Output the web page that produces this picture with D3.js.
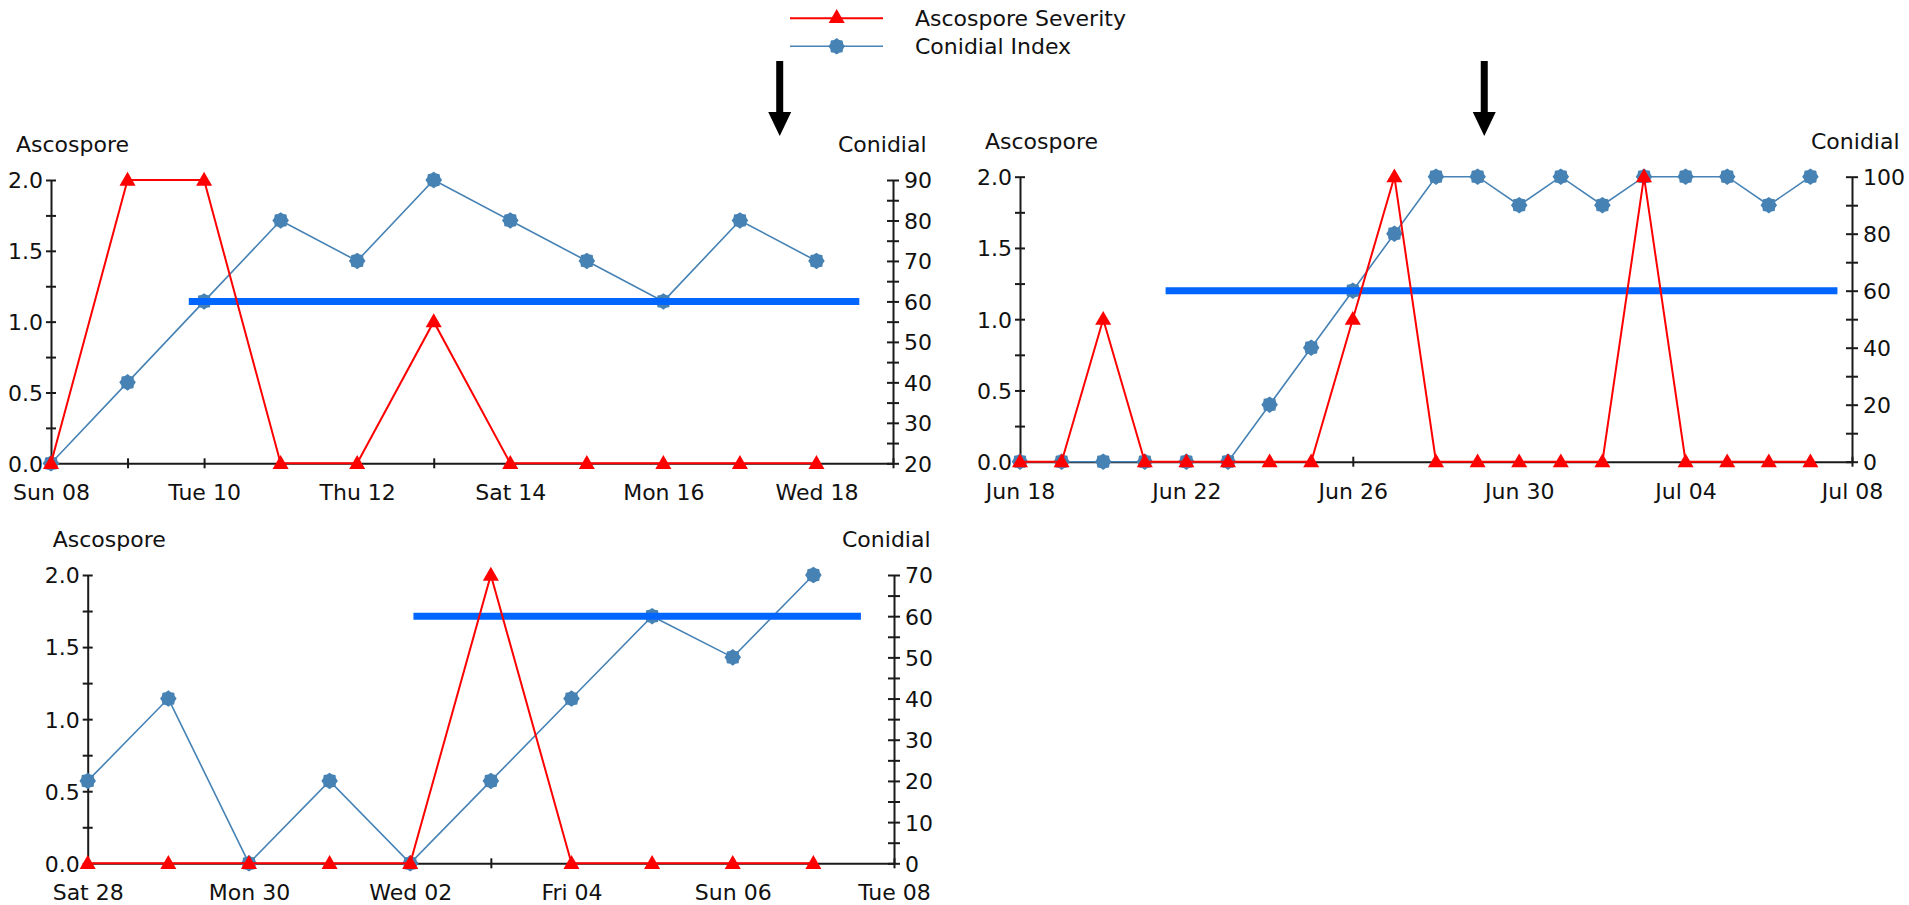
<!DOCTYPE html>
<html>
<head>
<meta charset="utf-8">
<script src="https://cdn.jsdelivr.net/npm/d3@7"></script>
<style>
  html, body { margin: 0; padding: 0; background: #ffffff; }
  svg text { font-family: "DejaVu Sans", Verdana, sans-serif; font-size: 22px; fill: #111; }
</style>
</head>
<body>
<svg id="chart" width="1909" height="905"></svg>
<script>
// ---------------- DATA ----------------
const seriesNames = ["Ascospore Severity", "Conidial Index"];
const leftAxisTitle = "Ascospore";
const rightAxisTitle = "Conidial";

// Panel 1: Sun 08 .. Wed 18 (June 2008)
const panel1Start = "2008-06-08";
const panel1End = "2008-06-19";
const panel1Ascospore = [0, 2, 2, 0, 0, 1, 0, 0, 0, 0, 0];
const panel1Conidial = [20, 40, 60, 80, 70, 90, 80, 70, 60, 80, 70];
const panel1ConidialDomain = [20, 90];
const panel1ThresholdValue = 60;
const panel1ThresholdDays = [1.8, 10.56];
const panel1ArrowDay = 9.52;

// Panel 2: Jun 18 .. Jul 07 (2008)
const panel2Start = "2008-06-18";
const panel2End = "2008-07-08";
const panel2Ascospore = [0, 0, 1, 0, 0, 0, 0, 0, 1, 2, 0, 0, 0, 0, 0, 2, 0, 0, 0, 0];
const panel2Conidial = [0, 0, 0, 0, 0, 0, 20, 40, 60, 80, 100, 100, 90, 100, 90, 100, 100, 100, 90, 100];
const panel2ConidialDomain = [0, 100];
const panel2ThresholdValue = 60;
const panel2ThresholdDays = [3.5, 19.65];
const panel2ArrowDay = 11.16;

// Panel 3: Sat 28 .. Mon 07 (Jun/Jul 2008)
const panel3Start = "2008-06-28";
const panel3End = "2008-07-08";
const panel3Ascospore = [0, 0, 0, 0, 0, 2, 0, 0, 0, 0];
const panel3Conidial = [20, 40, 0, 20, 0, 20, 40, 60, 50, 70];
const panel3ConidialDomain = [0, 70];
const panel3ThresholdValue = 60;
const panel3ThresholdDays = [4.04, 9.59];

const ascosporeTicks = [0, 0.25, 0.5, 0.75, 1, 1.25, 1.5, 1.75, 2];
const ascosporeLabels = [0, 0.5, 1, 1.5, 2];

// ---------------- STYLE ----------------
const RED = "#ff0000";
const BLUE = "#4682b4";
const THRESH = "#0066ff";
const AXIS = "#1a1a1a";

const svg = d3.select("#chart");
const parse = d3.timeParse("%Y-%m-%d");
const DAY = 864e5;

// scalloped round marker
const flowerSymbol = {
  draw(ctx, size) {
    const r = Math.sqrt(size / Math.PI);
    const n = 16;
    for (let i = 0; i < n; i++) {
      const a = (i / n) * 2 * Math.PI;
      const rr = i % 2 === 0 ? r * 1.08 : r * 0.9;
      const x = rr * Math.cos(a), y = rr * Math.sin(a);
      if (i === 0) ctx.moveTo(x, y); else ctx.lineTo(x, y);
    }
    ctx.closePath();
  }
};
const triPath = d3.symbol(d3.symbolTriangle, 112)();
const flowerPath = d3.symbol(flowerSymbol, 185)();

function drawPanel(cfg) {
  const start = parse(cfg.start), end = parse(cfg.end);
  const nDays = Math.round((end - start) / DAY);
  const dayDate = k => new Date(start.getTime() + k * DAY);
  const x = d3.scaleTime().domain([start, end]).range([cfg.left, cfg.right]);
  const yA = d3.scaleLinear().domain([0, 2]).range([cfg.bottom, cfg.top]);
  const yC = d3.scaleLinear().domain(cfg.conDomain).range([cfg.bottom, cfg.top]);
  const dates = cfg.asco.map((_, i) => dayDate(i));
  const g = svg.append("g");

  // x axis
  const xTicks = d3.range(0, nDays + 1, cfg.xTickStep).map(dayDate);
  const xLabels = d3.range(0, nDays + 1, cfg.xLabelStep).map(dayDate);
  const fmt = d3.timeFormat(cfg.fmt);
  const xa = g.append("g").attr("transform", `translate(0,${cfg.bottom})`)
    .call(d3.axisBottom(x).tickValues(xTicks).tickSizeOuter(0)
      .tickFormat(d => xLabels.some(l => +l === +d) ? fmt(d) : ""));
  xa.select(".domain").attr("stroke", AXIS).attr("stroke-width", 2);
  xa.selectAll(".tick line").attr("y1", -5).attr("y2", 5).attr("stroke", AXIS).attr("stroke-width", 2);
  xa.selectAll(".tick text").attr("y", 37).attr("dy", 0).attr("font-size", null).attr("font-family", null).attr("fill", null);

  // left axis
  const la = g.append("g").attr("transform", `translate(${cfg.left},0)`)
    .call(d3.axisLeft(yA).tickValues(ascosporeTicks).tickSizeOuter(0)
      .tickFormat(d => ascosporeLabels.includes(d) ? d3.format(".1f")(d) : ""));
  la.select(".domain").attr("stroke", AXIS).attr("stroke-width", 2);
  la.selectAll(".tick line").attr("x1", -5).attr("x2", 5).attr("stroke", AXIS).attr("stroke-width", 2);
  la.selectAll(".tick text").attr("x", -8).attr("dy", "0.36em").attr("font-size", null).attr("font-family", null).attr("fill", null);

  // right axis
  const cTicks = d3.range(cfg.conDomain[0], cfg.conDomain[1] + 0.01, cfg.conTickStep);
  const ra = g.append("g").attr("transform", `translate(${cfg.right},0)`)
    .call(d3.axisRight(yC).tickValues(cTicks).tickSizeOuter(0)
      .tickFormat(d => ((d - cfg.conDomain[0]) % cfg.conLabelStep === 0) ? d : ""));
  ra.select(".domain").attr("stroke", AXIS).attr("stroke-width", 2);
  ra.selectAll(".tick line").attr("x1", -6).attr("x2", 6).attr("stroke", AXIS).attr("stroke-width", 2);
  ra.selectAll(".tick text").attr("x", 11).attr("dy", "0.36em").attr("font-size", null).attr("font-family", null).attr("fill", null);

  // axis titles
  g.append("text").attr("x", cfg.left - 35).attr("y", cfg.top - 28).text(leftAxisTitle);
  g.append("text").attr("x", cfg.right + cfg.conTitleDx).attr("y", cfg.top - 28).text(rightAxisTitle);

  // conidial series
  const conLine = d3.line().x((d, i) => x(dates[i])).y(d => yC(d));
  g.append("path").attr("d", conLine(cfg.con)).attr("fill", "none")
    .attr("stroke", BLUE).attr("stroke-width", 1.6);
  g.selectAll(null).data(cfg.con).enter().append("path")
    .attr("d", flowerPath).attr("fill", BLUE)
    .attr("transform", (d, i) => `translate(${x(dates[i])},${yC(d)})`);

  // threshold
  g.append("line")
    .attr("x1", x(dayDate(cfg.thDays[0])))
    .attr("x2", x(dayDate(cfg.thDays[1])))
    .attr("y1", yC(cfg.thValue)).attr("y2", yC(cfg.thValue))
    .attr("stroke", THRESH).attr("stroke-width", 7);

  // ascospore series
  const asLine = d3.line().x((d, i) => x(dates[i])).y(d => yA(d));
  g.append("path").attr("d", asLine(cfg.asco)).attr("fill", "none")
    .attr("stroke", RED).attr("stroke-width", 2);
  g.selectAll(null).data(cfg.asco).enter().append("path")
    .attr("d", triPath).attr("fill", RED)
    .attr("transform", (d, i) => `translate(${x(dates[i])},${yA(d) + 1})`);

  // arrow
  if (cfg.arrowDay != null) {
    const ax = x(dayDate(cfg.arrowDay));
    const top = 61, headBase = 112, tip = 136, sw = 3.5, hw = 11.5;
    g.append("path").attr("fill", "#000")
      .attr("d", `M${ax - sw},${top}L${ax + sw},${top}L${ax + sw},${headBase}L${ax + hw},${headBase}L${ax},${tip}L${ax - hw},${headBase}L${ax - sw},${headBase}Z`);
  }
}

drawPanel({
  left: 51, right: 893, top: 180, bottom: 463.3,
  start: panel1Start, end: panel1End, asco: panel1Ascospore, con: panel1Conidial,
  conDomain: panel1ConidialDomain, conTickStep: 5, conLabelStep: 10, conTitleDx: -55,
  xTickStep: 1, xLabelStep: 2, fmt: "%a %d",
  thValue: panel1ThresholdValue, thDays: panel1ThresholdDays, arrowDay: panel1ArrowDay
});
drawPanel({
  left: 1020, right: 1852, top: 176.7, bottom: 461.7,
  start: panel2Start, end: panel2End, asco: panel2Ascospore, con: panel2Conidial,
  conDomain: panel2ConidialDomain, conTickStep: 10, conLabelStep: 20, conTitleDx: -41,
  xTickStep: 2, xLabelStep: 4, fmt: "%b %d",
  thValue: panel2ThresholdValue, thDays: panel2ThresholdDays, arrowDay: panel2ArrowDay
});
drawPanel({
  left: 87.7, right: 894, top: 575, bottom: 863.3,
  start: panel3Start, end: panel3End, asco: panel3Ascospore, con: panel3Conidial,
  conDomain: panel3ConidialDomain, conTickStep: 5, conLabelStep: 10, conTitleDx: -52,
  xTickStep: 1, xLabelStep: 2, fmt: "%a %d",
  thValue: panel3ThresholdValue, thDays: panel3ThresholdDays, arrowDay: null
});

// ---------------- LEGEND ----------------
const legend = svg.append("g");
const legendColors = [RED, BLUE];
const legendMarks = [triPath, flowerPath];
seriesNames.forEach((name, i) => {
  const ly = 18.3 + i * 28;
  legend.append("line").attr("x1", 790).attr("x2", 883).attr("y1", ly).attr("y2", ly)
    .attr("stroke", legendColors[i]).attr("stroke-width", i === 0 ? 2 : 1.6);
  legend.append("path").attr("d", legendMarks[i]).attr("fill", legendColors[i])
    .attr("transform", `translate(836.7,${ly})`);
  legend.append("text").attr("x", 915).attr("y", ly + 8).text(name);
});
</script>
</body>
</html>
